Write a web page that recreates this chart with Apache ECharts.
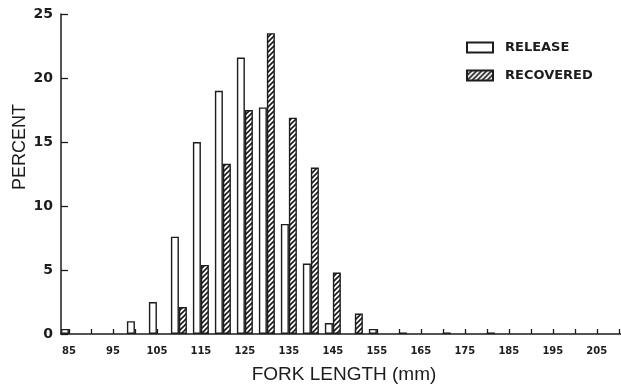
<!DOCTYPE html>
<html>
<head>
<meta charset="utf-8">
<script src="https://cdn.jsdelivr.net/npm/echarts@6/dist/echarts.min.js"></script>
<style>
  html, body { margin: 0; padding: 0; background: #fff; }
  #chart { width: 621px; height: 389px; }
</style>
</head>
<body>
<div id="chart"></div>
<script>
// Fork length bins (mm), one pair of bars per 5 mm bin
const bins      = [85, 90, 95, 100, 105, 110, 115, 120, 125, 130, 135, 140, 145, 150, 155, 160, 165, 170, 175, 180];
// Percent of fish in each bin
const release   = [0.4, null, null, 1.0, 2.5, 7.6, 15.0, 19.0, 21.6, 17.7, 8.6, 5.5, 0.86, null, 0.4, null, null, null, null, null];
const recovered = [null, null, null, null, null, 2.1, 5.4, 13.3, 17.5, 23.5, 16.9, 13.0, 4.8, 1.6, null, 0.12, null, 0.12, null, 0.12];
// Axis tick marks and labels
const xTickValues  = [85, 90, 95, 100, 105, 110, 115, 120, 125, 130, 135, 140, 145, 150, 155, 160, 165, 170, 175, 180, 185, 190, 195, 200, 205, 210];
const xLabelValues = [85, 95, 105, 115, 125, 135, 145, 155, 165, 175, 185, 195, 205];

const ink = '#1c1c1c';

// Diagonal hatching for the recovered bars
function hatchPattern() {
  const s = 5;
  const c = document.createElement('canvas');
  c.width = s; c.height = s;
  const g = c.getContext('2d');
  g.fillStyle = '#fff';
  g.fillRect(0, 0, s, s);
  g.strokeStyle = ink;
  g.lineWidth = 1.6;
  g.beginPath();
  g.moveTo(-1, s + 1); g.lineTo(s + 1, -1);
  g.moveTo(-1, 1); g.lineTo(1, -1);
  g.moveTo(s - 1, s + 1); g.lineTo(s + 1, s - 1);
  g.stroke();
  return c;
}

const toPairs = arr => bins.map((b, i) => [b, arr[i]]).filter(p => p[1] !== null);

const chart = echarts.init(document.getElementById('chart'), null, { renderer: 'canvas' });

chart.setOption({
  animation: false,
  backgroundColor: '#fff',
  grid: { left: 61, right: 0, top: 14, bottom: 55, containLabel: false },
  legend: {
    orient: 'vertical',
    left: 466,
    top: 41,
    padding: 0,
    itemWidth: 26,
    itemHeight: 10,
    itemGap: 15,
    icon: 'rect',
    data: ['RELEASE', 'RECOVERED'],
    textStyle: { fontFamily: 'DejaVu Sans', fontWeight: 'bold', fontSize: 13, color: ink, padding: [0, 0, 0, 7] }
  },
  xAxis: {
    type: 'value',
    min: 83.2,
    max: 210.5,
    name: 'FORK LENGTH (mm)',
    nameLocation: 'middle',
    nameGap: 31,
    nameTextStyle: { fontFamily: 'Liberation Sans', fontSize: 19, color: ink, padding: [0, 0, 0, 6] },
    axisLine: { show: true, onZero: false, lineStyle: { color: ink, width: 1.5 } },
    axisTick: { show: true, inside: true, length: 5, customValues: xTickValues, lineStyle: { color: ink, width: 1.3 } },
    axisLabel: { customValues: xLabelValues, fontFamily: 'DejaVu Sans', fontWeight: 'bold', fontSize: 10, color: ink, margin: 12 },
    splitLine: { show: false }
  },
  yAxis: {
    type: 'value',
    min: 0,
    max: 25,
    interval: 5,
    axisLine: { show: true, lineStyle: { color: ink, width: 1.5 } },
    axisTick: { show: true, inside: true, length: 7, lineStyle: { color: ink, width: 1.3 } },
    axisLabel: { fontFamily: 'DejaVu Sans', fontWeight: 'bold', fontSize: 14, color: ink, margin: 8 },
    splitLine: { show: false }
  },
  graphic: [{
    type: 'text',
    left: 11,
    top: 104,
    rotation: Math.PI / 2,
    style: { text: 'PERCENT', font: '18px "Liberation Sans"', fill: ink }
  }],
  series: [
    {
      name: 'RELEASE',
      type: 'bar',
      barWidth: 8,
      barGap: '0%',
      data: toPairs(release),
      itemStyle: { color: '#fff', borderColor: ink, borderWidth: 1.4 }
    },
    {
      name: 'RECOVERED',
      type: 'bar',
      barWidth: 8,
      barGap: '0%',
      data: toPairs(recovered),
      itemStyle: { color: { image: hatchPattern(), repeat: 'repeat' }, borderColor: ink, borderWidth: 1.4 }
    }
  ]
});
</script>
</body>
</html>
